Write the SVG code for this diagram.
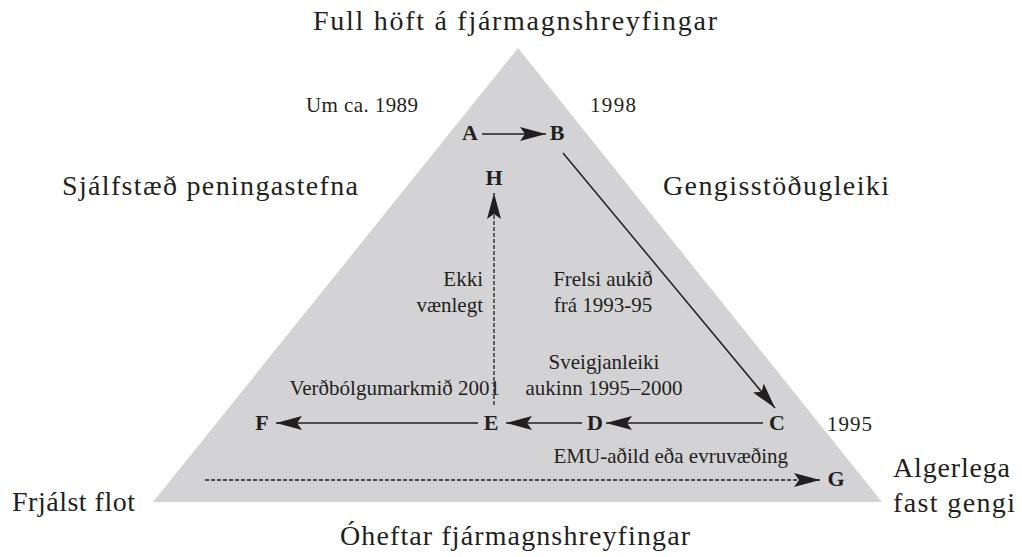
<svg xmlns="http://www.w3.org/2000/svg" width="1022" height="557" viewBox="0 0 1022 557">
<defs>
<style>
.lbl{font-family:"Liberation Serif",serif;fill:#231f20;}
.big{font-size:28px;}
.mid{font-size:21px;}
.sm{font-size:21px;}
.node{font-family:"Liberation Serif",serif;font-weight:bold;font-size:22px;fill:#231f20;text-anchor:middle;}
.ln{stroke:#231f20;stroke-width:1.5;fill:none;}
.dash{stroke:#231f20;stroke-width:1.3;fill:none;stroke-dasharray:4 2;}
</style>
<marker id="ah" viewBox="0 0 26 14" refX="26" refY="7" markerWidth="26" markerHeight="14" markerUnits="userSpaceOnUse" orient="auto">
<path d="M0,0 L26,7 L0,14 L5,7 z" fill="#231f20"/>
</marker>
</defs>
<rect width="1022" height="557" fill="#ffffff"/>
<polygon id="triangle" points="518,48 882,502 153,502" fill="#d3d3d5"/>
<g id="labels">
<text class="lbl big" x="313" y="30" textLength="404">Full höft á fjármagnshreyfingar</text>
<text class="lbl big" x="62" y="195" textLength="296">Sjálfstæð peningastefna</text>
<text class="lbl big" x="663" y="195" textLength="226">Gengisstöðugleiki</text>
<text class="lbl big" x="12" y="511" textLength="123">Frjálst flot</text>
<text class="lbl big" x="893" y="477" textLength="117">Algerlega</text>
<text class="lbl big" x="893" y="512" textLength="122">fast gengi</text>
<text class="lbl big" x="340" y="545" textLength="350">Óheftar fjármagnshreyfingar</text>
<text class="lbl mid" x="306" y="112" textLength="112">Um ca. 1989</text>
<text class="lbl mid" x="590" y="112" textLength="46">1998</text>
<text class="lbl mid" x="827" y="431" textLength="45">1995</text>
<text class="lbl sm" x="483" y="286" text-anchor="end">Ekki</text>
<text class="lbl sm" x="483" y="312" text-anchor="end">vænlegt</text>
<text class="lbl sm" x="603" y="286" text-anchor="middle">Frelsi aukið</text>
<text class="lbl sm" x="603" y="312" text-anchor="middle">frá 1993-95</text>
<text class="lbl sm" x="604" y="369" text-anchor="middle">Sveigjanleiki</text>
<text class="lbl sm" x="604" y="395" text-anchor="middle">aukinn 1995–2000</text>
<text class="lbl sm" x="500" y="395" text-anchor="end">Verðbólgumarkmið 2001</text>
<text class="lbl sm" x="788" y="463" text-anchor="end">EMU-aðild eða evruvæðing</text>
</g>
<g id="connectors">
<line class="ln" x1="482" y1="134" x2="546" y2="134" marker-end="url(#ah)"/>
<line class="ln" x1="563" y1="153" x2="775" y2="408" marker-end="url(#ah)"/>
<line class="ln" x1="763" y1="423" x2="606" y2="423" marker-end="url(#ah)"/>
<line class="ln" x1="582" y1="423" x2="506" y2="423" marker-end="url(#ah)"/>
<line class="ln" x1="478" y1="423" x2="276" y2="423" marker-end="url(#ah)"/>
<line class="dash" x1="494" y1="405" x2="494" y2="193" marker-end="url(#ah)"/>
<line class="dash" x1="205" y1="480" x2="820" y2="480" marker-end="url(#ah)"/>
</g>
<g id="node-A"><text class="node" x="470" y="140">A</text></g>
<g id="node-B"><text class="node" x="557" y="140">B</text></g>
<g id="node-H"><text class="node" x="494" y="185">H</text></g>
<g id="node-C"><text class="node" x="777" y="430">C</text></g>
<g id="node-D"><text class="node" x="595" y="430">D</text></g>
<g id="node-E"><text class="node" x="491" y="430">E</text></g>
<g id="node-F"><text class="node" x="262" y="430">F</text></g>
<g id="node-G"><text class="node" x="836" y="486">G</text></g>
</svg>
